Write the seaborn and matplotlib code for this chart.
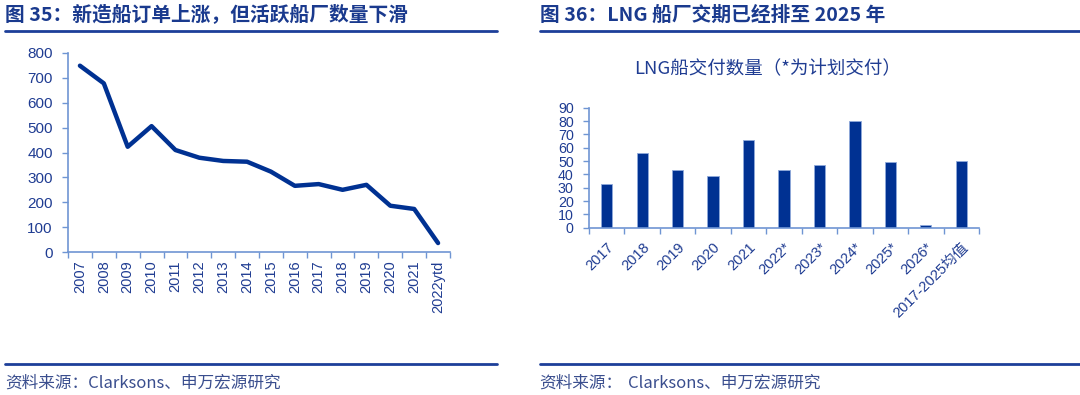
import matplotlib
matplotlib.use("Agg")
import matplotlib.pyplot as plt
import seaborn as sns
import pandas as pd
from matplotlib.lines import Line2D

sns.set_theme(style="white")
plt.rcParams['font.family'] = ['Liberation Sans', 'Noto Sans CJK SC', 'DejaVu Sans']

# ---------------- data ----------------
years_left = ["2007", "2008", "2009", "2010", "2011", "2012", "2013", "2014",
              "2015", "2016", "2017", "2018", "2019", "2020", "2021", "2022ytd"]
active_yards = [749, 678, 423, 506, 410, 379, 366, 363,
                323, 266, 273, 250, 270, 186, 173, 36]

lng_years = ["2017", "2018", "2019", "2020", "2021", "2022*", "2023*",
             "2024*", "2025*", "2026*", "2017-2025均值"]
lng_deliveries = [33, 56, 43, 39, 66, 43, 47, 80, 49, 2, 50]

left_yticks = [0, 100, 200, 300, 400, 500, 600, 700, 800]
right_yticks = [0, 10, 20, 30, 40, 50, 60, 70, 80, 90]

title_left = "图 35：新造船订单上涨，但活跃船厂数量下滑"
title_right = "图 36：LNG 船厂交期已经排至 2025 年"
chart_title_right = "LNG船交付数量（*为计划交付）"
source_label = "资料来源："
source_text = "Clarksons、申万宏源研究"

# ---------------- style ----------------
NAVY = "#003192"
TEXT = "#1F3C92"
SPINE = "#6F95D3"
HEAD = "#1A3A8E"
SRC = "#3A4E8E"
CJK = ['Noto Sans CJK SC', 'DejaVu Sans']

W, H = 1080, 395
fig = plt.figure(figsize=(W / 100, H / 100), dpi=100)

def fx(px):
    return px / W

def fy(py):
    return 1 - py / H

# ---------------- left chart ----------------
axL = fig.add_axes([fx(68), fy(252), fx(450 - 68), fy(53) - fy(252)])
dfL = pd.DataFrame({"year": years_left, "value": active_yards})
sns.lineplot(data=dfL, x="year", y="value", sort=False, color=NAVY,
             linewidth=3.2, ax=axL)
axL.set_xlim(-0.5, len(years_left) - 0.5)
axL.set_ylim(0, 800)
axL.set_yticks(left_yticks)
axL.set_xticks(range(len(years_left)))
axL.set_xticklabels(years_left, rotation=90)
axL.set_xticks([i - 0.5 for i in range(len(years_left) + 1)], minor=True)

# ---------------- right chart ----------------
axR = fig.add_axes([fx(589), fy(227.7), fx(979 - 589), fy(107.7) - fy(227.7)])
dfR = pd.DataFrame({"year": lng_years, "value": lng_deliveries})
sns.barplot(data=dfR, x="year", y="value", color=NAVY, saturation=1,
            width=0.32, edgecolor="#8FA9DA", linewidth=0.6, ax=axR)
axR.set_xlim(-0.5, len(lng_years) - 0.5)
axR.set_ylim(0, 90)
axR.set_yticks(right_yticks)
axR.set_xticks(range(len(lng_years)))
axR.set_xticklabels(lng_years, rotation=45, ha="right", rotation_mode="anchor")
axR.set_xticks([i - 0.5 for i in range(len(lng_years) + 1)], minor=True)

for ax, fs_y, fs_x, xpad in ((axL, 11, 10.5, 6), (axR, 10.3, 10.5, 9)):
    ax.set_xlabel("")
    ax.set_ylabel("")
    for s in ("top", "right"):
        ax.spines[s].set_visible(False)
    for s in ("left", "bottom"):
        ax.spines[s].set_color(SPINE)
        ax.spines[s].set_linewidth(1.2)
    ax.tick_params(axis="y", which="major", direction="out", length=4,
                   width=1, color=SPINE, labelsize=fs_y, labelcolor=TEXT, pad=7, left=True)
    ax.tick_params(axis="x", which="major", length=0, labelsize=fs_x,
                   labelcolor=TEXT, pad=xpad)
    ax.tick_params(axis="x", which="minor", direction="out", length=4,
                   width=1, color=SPINE, bottom=True)
    ax.grid(False)
    ax.set_facecolor("white")

fig.text(fx(768), fy(69), chart_title_right, fontsize=13.3, color=TEXT,
         family=CJK, ha="center", va="center")

# ---------------- headers & footers ----------------
fig.text(fx(5), fy(15), title_left, fontsize=14.2, fontweight="bold",
         color=HEAD, family=CJK, va="center", ha="left")
fig.text(fx(540), fy(15), title_right, fontsize=14.2, fontweight="bold",
         color=HEAD, family=CJK, va="center", ha="left")

for (x0, x1) in ((5, 497), (540, 1080)):
    fig.add_artist(Line2D([fx(x0), fx(x1)], [fy(31), fy(31)], color="#1D3F99",
                          linewidth=2.0, transform=fig.transFigure))
    fig.add_artist(Line2D([fx(x0), fx(x1)], [fy(364), fy(364)], color="#1D3F99",
                          linewidth=2.0, transform=fig.transFigure))

fig.text(fx(5), fy(383), source_label + source_text, fontsize=12, color=SRC,
         family=CJK, va="center", ha="left")
fig.text(fx(539), fy(383), source_label, fontsize=12, color=SRC,
         family=CJK, va="center", ha="left")
fig.text(fx(628), fy(383), source_text, fontsize=12, color=SRC,
         family=CJK, va="center", ha="left")

fig.savefig("out.png", dpi=100, facecolor="white")
